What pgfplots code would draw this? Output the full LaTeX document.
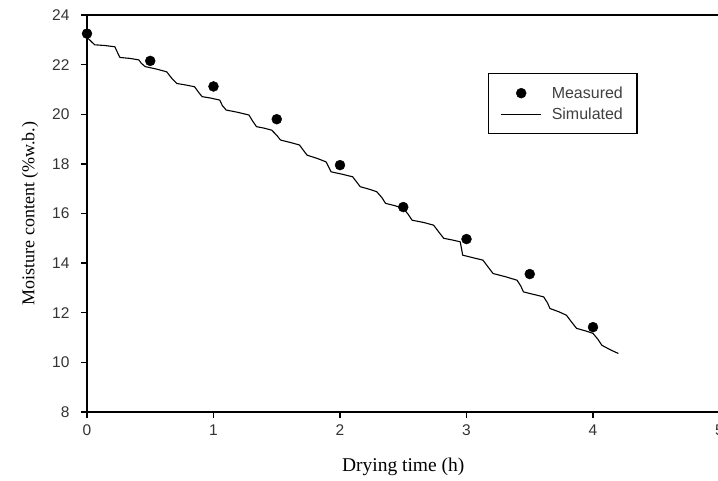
\documentclass[border=0pt]{standalone}
\usepackage{fontspec}
\setmainfont{Liberation Serif}
\setsansfont{Liberation Sans}
\usepackage{pgfplots}
\pgfplotsset{compat=1.18}
\begin{document}
\begin{tikzpicture}
\begin{axis}[
  scale only axis,
  width=632.5pt, height=397pt,
  xmin=0, xmax=5, ymin=8, ymax=24,
  xtick={0,1,2,3,4,5}, ytick={8,10,...,24},
  tick pos=left,
  tick align=outside,
  major tick length=6pt,
  axis line style={line width=1.6pt},
  tick style={line width=1.4pt, black},
  /pgf/number format/assume math mode=true,
  tick label style={font=\sffamily\fontsize{15.5}{15.5}\selectfont, color=black!80},
  yticklabel style={xshift=-8pt},
  xticklabel style={yshift=-3pt},
  xlabel={Drying time (h)},
  ylabel={Moisture content (\%w.b.)},
  label style={font=\rmfamily\fontsize{19.5}{19.5}\selectfont},
  xlabel style={at={(axis description cs:0.5,-0.1385)}, anchor=center},
  ylabel style={at={(axis description cs:-0.09,0.5)}, anchor=center, font=\rmfamily\fontsize{18}{18}\selectfont},
  legend image code/.code={\draw[mark repeat=2,mark phase=2,#1] plot coordinates {(0pt,0pt) (20pt,0pt) (40pt,0pt)};},
  legend style={at={(0.634,0.854)}, anchor=north west, draw=black, line width=1.3pt,
    font=\sffamily\fontsize{16}{16}\selectfont, text=black!75,
    inner xsep=12pt, inner ysep=11pt, row sep=4pt, cells={anchor=west},
    /tikz/every odd column/.append style={column sep=8pt}},
  clip=false,
]
\addplot[only marks, mark=*, mark size=5pt, black, line width=0.4pt] coordinates {
(0,23.25) (0.5,22.15) (1.0,21.12) (1.5,19.8) (2.0,17.95) (2.5,16.26) (3.0,14.97) (3.5,13.56) (4.0,11.42)
};
\addlegendentry{Measured}
\addplot[black, line width=1.1pt, line join=round] coordinates {
(0.00,23.10) (0.03,22.95) (0.06,22.80) (0.14,22.77) (0.22,22.72) (0.24,22.50) (0.26,22.29) (0.34,22.25) (0.41,22.19)
(0.43,22.05) (0.46,21.92) (0.55,21.82) (0.63,21.71) (0.67,21.45) (0.71,21.24) (0.78,21.18) (0.85,21.11)
(0.88,20.90) (0.91,20.71) (0.98,20.65) (1.05,20.57) (1.07,20.35) (1.10,20.17) (1.19,20.08) (1.28,19.97)
(1.31,19.72) (1.34,19.50) (1.40,19.44) (1.46,19.36) (1.50,19.15) (1.53,18.96) (1.61,18.86) (1.68,18.76)
(1.71,18.55) (1.74,18.35) (1.82,18.22) (1.89,18.08) (1.91,17.88) (1.93,17.68) (2.02,17.58) (2.10,17.48)
(2.13,17.28) (2.16,17.08) (2.23,16.98) (2.29,16.88) (2.33,16.65) (2.36,16.41) (2.43,16.32) (2.50,16.21)
(2.54,15.96) (2.57,15.73) (2.66,15.64) (2.74,15.53) (2.78,15.26) (2.82,15.00) (2.89,14.93) (2.95,14.86)
(2.96,14.60) (2.97,14.32) (3.05,14.22) (3.13,14.12) (3.17,13.85) (3.21,13.58) (3.31,13.45) (3.40,13.31)
(3.43,13.07) (3.45,12.84) (3.53,12.74) (3.61,12.64) (3.64,12.40) (3.66,12.17) (3.73,12.04) (3.79,11.90)
(3.83,11.63) (3.87,11.37) (3.94,11.27) (4.00,11.17) (4.04,10.92) (4.07,10.69) (4.14,10.50) (4.20,10.36)
};
\addlegendentry{Simulated}
\end{axis}
\pgfresetboundingbox
\useasboundingbox (-87pt,-68pt) rectangle (631pt,412pt);
\end{tikzpicture}
\end{document}
